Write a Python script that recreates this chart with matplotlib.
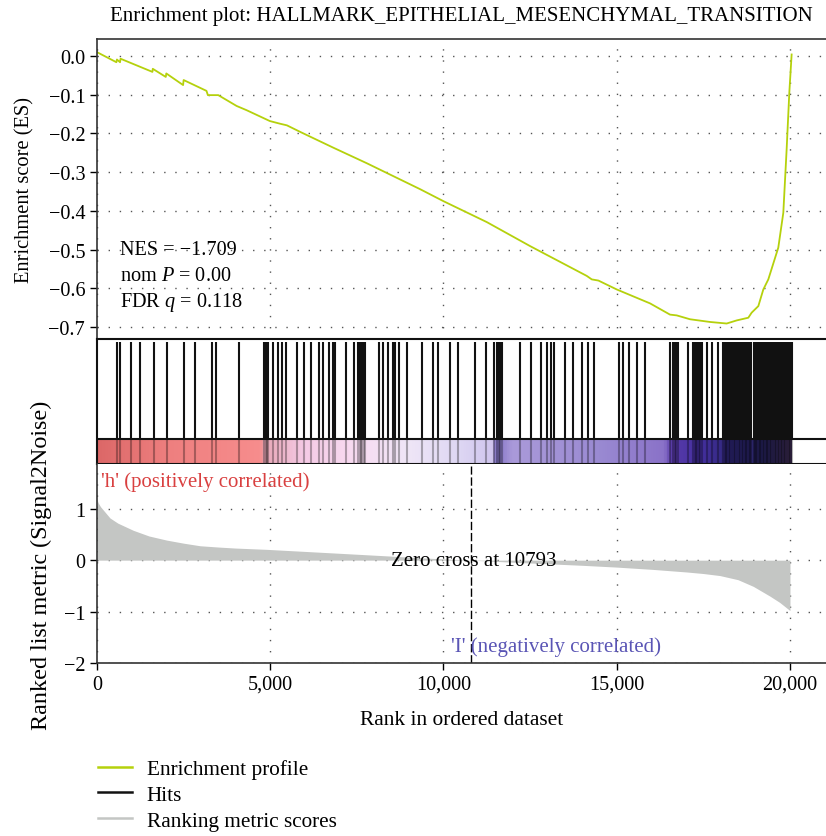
import numpy as np
import matplotlib
matplotlib.use('Agg')
import matplotlib.pyplot as plt
from matplotlib.colors import LinearSegmentedColormap
from matplotlib.lines import Line2D

plt.rcParams['font.family'] = ['Liberation Serif', 'DejaVu Serif']
plt.rcParams['mathtext.fontset'] = 'custom'
plt.rcParams['mathtext.rm'] = 'Liberation Serif'
plt.rcParams['mathtext.it'] = 'Liberation Serif:italic'
plt.rcParams['axes.unicode_minus'] = True

title = 'Enrichment plot: HALLMARK_EPITHELIAL_MESENCHYMAL_TRANSITION'
n_genes = 20050
zero_cross = 10793

# running enrichment score
es_rank = [0, 560, 575, 665, 680, 1600, 1610, 1985, 2000, 2485, 2500, 3160, 3200, 3500,
           4030, 4320, 4990, 5290, 5480, 5865, 6826, 7788, 9326, 10000, 11250, 12500,
           14135, 14279, 14471, 15000, 15962, 16538, 16731, 17115, 17692, 18173, 18462,
           18798, 18894, 19087, 19231, 19375, 19663, 19808, 19904, 19981, 20048]
es_val = [0.010, -0.016, -0.009, -0.016, -0.007, -0.041, -0.033, -0.054, -0.045, -0.075,
          -0.062, -0.090, -0.101, -0.101, -0.129, -0.140, -0.168, -0.175, -0.179, -0.196,
          -0.237, -0.277, -0.344, -0.375, -0.429, -0.491, -0.568, -0.577, -0.580, -0.603,
          -0.639, -0.668, -0.670, -0.680, -0.687, -0.691, -0.683, -0.676, -0.663, -0.646,
          -0.603, -0.577, -0.495, -0.405, -0.241, -0.095, 0.004]

# hit positions (ranks of gene set members)
hits = [569, 672, 973, 1241, 1645, 2029, 2511, 2828, 3319, 3426, 4098,
        4820, 4865, 4905, 4944, 5088, 5215, 5339, 5446, 5781, 5983, 6185, 6398, 6531,
        6704, 6820, 6877, 7186, 7417, 7541, 7580, 7620, 7660, 7700, 7734,
        8138, 8262, 8389, 8551, 8591, 8724, 8955, 9380, 9706, 9841, 10188, 10427,
        10909, 11227, 11466, 11553, 11600, 11640, 11680, 12208, 12525, 12814, 12987,
        13094, 13181, 13507, 13747, 13989, 14170, 14343, 15056, 15171, 15361, 15584,
        15815, 16528, 16632, 16680, 16720, 16759, 17048,
        17210, 17250, 17290, 17330, 17370, 17410, 17452, 17605, 17749, 17922,
        18075, 18115, 18155, 18195, 18235, 18268, 18335, 18378, 18420, 18461,
        18537, 18572, 18606, 18652, 18690, 18730, 18770, 18810, 18840, 18866,
        18952, 18985, 19019, 19057, 19095, 19135, 19175, 19215, 19255, 19295, 19329,
        19374, 19420, 19465, 19510, 19555, 19600, 19645, 19690, 19735, 19780, 19825,
        19870, 19915, 19960, 20005, 20049]

# ranked list metric (Signal2Noise)
met_rank = [0, 30, 100, 250, 375, 600, 1048, 1500, 2010, 2500, 2973, 3500, 4000, 4897,
            6000, 6820, 8456, 9500, 10793, 12000, 13000, 14000, 15000, 16046, 17017,
            17500, 17980, 18500, 18942, 19423, 19700, 20000]
met_val = [1.19, 1.12, 1.04, 0.92, 0.82, 0.72, 0.58, 0.47, 0.39, 0.33, 0.28, 0.255, 0.235,
           0.21, 0.17, 0.14, 0.08, 0.04, 0.0, -0.04, -0.07, -0.10, -0.135, -0.18, -0.23,
           -0.26, -0.30, -0.38, -0.51, -0.70, -0.82, -0.98]

# colour bar stops (rank, colour)
bar_stops = [(0, '#dc6868'), (2000, '#ee7f7f'), (4700, '#f78d8d'), (4800, '#e8a8b8'),
             (6000, '#f5cbe6'), (7500, '#f8dcf2'), (9000, '#efe6f7'), (10500, '#ddd6f3'),
             (11400, '#d0c6ee'), (11500, '#8070c4'), (12000, '#aa9ada'), (14500, '#9a8ad2'),
             (16400, '#8a72c8'), (16600, '#5a3caa'), (17400, '#4530a0'), (18300, '#30287a'),
             (19300, '#2a2664'), (20050, '#3d2c52')]

es_color = '#b5d10c'
metric_color = '#c4c6c4'
grid_kw = dict(color='#555555', linewidth=1.0, linestyle=(0, (1, 7)))
fs = 15
tick_fs = 14.6

fig = plt.figure(figsize=(8.26, 8.37), dpi=100)
L, W = 97 / 826, 729 / 826
ax1 = fig.add_axes([L, 1 - 340 / 837, W, 300 / 837])
ax2 = fig.add_axes([L, 1 - 465 / 837, W, 125 / 837])
ax3 = fig.add_axes([L, 1 - 664 / 837, W, 199 / 837])

xmax = 21040
xt = [0, 5000, 10000, 15000, 20000]

# --- top: enrichment score
es_ticks = [0.0, -0.1, -0.2, -0.3, -0.4, -0.5, -0.6, -0.7]
ax1.plot(es_rank, es_val, color=es_color, lw=1.3)
ax1.set_xlim(0, xmax)
ax1.set_ylim(-0.731, 0.044)
ax1.set_yticks(es_ticks)
ax1.set_yticklabels(['0.0' if v == 0 else '\u2212%.1f' % abs(v) for v in es_ticks])
ax1.set_xticks(xt)
ax1.tick_params(axis='x', length=0, labelbottom=False)
ax1.tick_params(axis='y', direction='out', length=5, width=1, labelsize=tick_fs)
ax1.grid(True, **grid_kw)
for s in ['top', 'bottom', 'left']:
    ax1.spines[s].set_color('#333333')
    ax1.spines[s].set_linewidth(1.2)
ax1.spines['right'].set_visible(False)
ax1.set_ylabel('Enrichment score (ES)', fontsize=14.8)
ax1.yaxis.set_label_coords(-0.086, 0.5)
ax1.text(664, -0.4995, 'NES = \u22121.709', fontsize=tick_fs, va='center')
ax1.text(664, -0.567, 'nom $P$ = 0.00', fontsize=tick_fs, va='center')
ax1.text(664, -0.634, 'FDR $q$ = 0.118', fontsize=tick_fs, va='center')
fig.text((97 + 826) / 2 / 826, 1 - 16 / 837, title, ha='center', va='center', fontsize=fs)

# --- middle: hits and colour bar
cmap = LinearSegmentedColormap.from_list(
    'rank', [(r / n_genes, c) for r, c in bar_stops])
grad = np.linspace(0, 1, 2000).reshape(1, -1)
ax2.imshow(grad, cmap=cmap, aspect='auto', extent=[0, n_genes, 0, 0.25],
           interpolation='bilinear')
ax2.vlines(hits, 0.25, 1.22, color='#111111', lw=1.5)
ax2.vlines(hits, 0, 0.25, color='black', lw=1.5, alpha=0.3)
ax2.axhline(0.25, color='#111111', lw=1.5)
ax2.set_xlim(0, xmax)
ax2.set_ylim(0, 1.25)
ax2.set_xticks([])
ax2.set_yticks([])
ax2.spines['right'].set_visible(False)
for s in ['top', 'bottom', 'left']:
    ax2.spines[s].set_color('#111111')
    ax2.spines[s].set_linewidth(1.5)

# --- bottom: ranked list metric
ax3.fill_between(met_rank, met_val, 0, color=metric_color, lw=0)
ax3.set_xlim(0, xmax)
ax3.set_ylim(-2, 1.87)
ax3.set_yticks([1, 0, -1, -2])
ax3.set_xticks(xt)
ax3.set_xticklabels(['0', '5,000', '10,000', '15,000', '20,000'])
ax3.tick_params(direction='out', length=5, width=1, labelsize=tick_fs)
ax3.grid(True, **grid_kw)
ax3.set_axisbelow(True)
ax3.spines['top'].set_visible(False)
ax3.spines['right'].set_visible(False)
for s in ['bottom', 'left']:
    ax3.spines[s].set_color('#333333')
    ax3.spines[s].set_linewidth(1.2)
ax3.axvline(zero_cross, ymin=0, ymax=0.99, color='black', lw=1.0, linestyle=(0, (6, 2)))
ax3.text(zero_cross + 80, 0, 'Zero cross at %d' % zero_cross, ha='center', va='center',
         fontsize=fs)
ax3.text(120, 1.53, "'h' (positively correlated)", color='#d94040', fontsize=fs,
         va='center')
ax3.text(10230, -1.67, "'I' (negatively correlated)", color='#5a55b5', fontsize=fs,
         va='center')
ax3.set_ylabel('Ranked list metric (Signal2Noise)', fontsize=17.4)
ax3.yaxis.set_label_coords(-0.062, 0.497)
ax3.set_xlabel('Rank in ordered dataset', fontsize=15.4)
ax3.xaxis.set_label_coords(0.5, -0.234)

handles = [Line2D([], [], color=es_color, lw=1.8),
           Line2D([], [], color='#111111', lw=1.8),
           Line2D([], [], color=metric_color, lw=1.8)]
fig.legend(handles, ['Enrichment profile', 'Hits', 'Ranking metric scores'],
           loc='upper left', bbox_to_anchor=(79 / 826, 1 - 741 / 837), frameon=False,
           fontsize=15.3, handlelength=1.6, handletextpad=0.68, labelspacing=0.28)

fig.savefig('out.png', dpi=100)
